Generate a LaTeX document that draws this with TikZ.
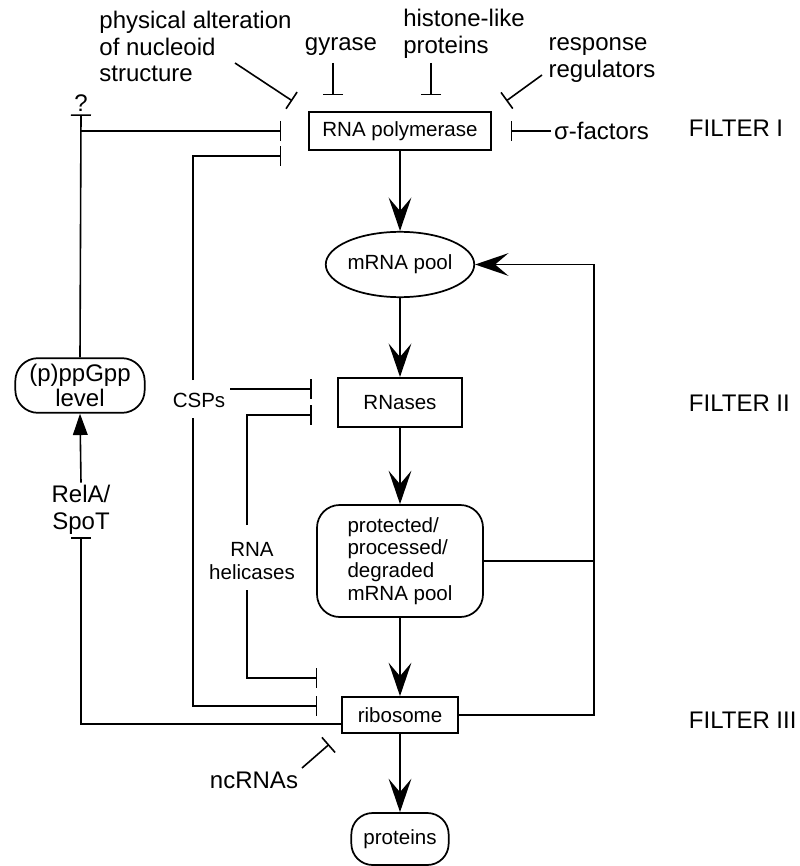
\documentclass[tikz,border=0pt]{standalone}
\usepackage{fontspec}
\setmainfont{Liberation Sans}
\usetikzlibrary{positioning,calc,arrows.meta,shapes.geometric}

\tikzset{
  lab/.style={font=\fontsize{18}{20}\selectfont, inner sep=2pt},
  txt/.style={font=\fontsize{15.4}{17}\selectfont, inner sep=2pt},
  box/.style={draw, line width=1.3pt, txt, inner sep=0pt},
  flow/.style={line width=1.8pt, -{Stealth[length=25pt,width=17pt,inset=10pt]}},
  inhib/.style={line width=1.2pt, -{Bar[width=15pt]}},
}

\begin{document}
\begin{tikzpicture}[x=0.75pt, y=-0.75pt]
  \useasboundingbox (0,0) rectangle (799,866);

  % Main chain
  \node[box, minimum width=137pt, minimum height=28.5pt] (pol) at (400,131) {RNA polymerase};
  \node[box, ellipse, minimum width=97pt, minimum height=49pt] (mrna) at (400,264.5) {mRNA pool};
  \node[box, minimum width=93pt, minimum height=37pt] (rnases) at (400,402.5) {RNases};
  \node[box, rounded corners=17pt, minimum width=124.5pt, minimum height=84pt, align=left] (ppool) at (400,561) {protected/\\processed/\\degraded\\mRNA pool};
  \node[box, minimum width=87pt, minimum height=27pt] (ribo) at (400,715) {ribosome};
  \node[box, rounded corners=16pt, minimum width=73pt, minimum height=39pt] (prot) at (400,839) {proteins};

  % Regulators
  \node[lab, align=left] (phys) at (195.5,46.5) {physical alteration\\of nucleoid\\structure};
  \node[lab] (gyr) at (341,47) {gyrase};
  \node[lab, align=left] (hist) at (464,33.5) {histone-like\\proteins};
  \node[lab, align=left] (resp) at (602,60) {response\\regulators};
  \node[lab] (sigma) at (601.5,131) {σ-factors};
  \node[lab] (q) at (81,103) {?};
  \node[lab, draw, line width=1.3pt, rounded corners=17pt, minimum width=97pt, minimum height=41pt, align=center, font=\fontsize{18}{18.75}\selectfont] (ppgpp) at (80,385.5) {(p)ppGpp\\level};
  \node[lab, align=center] (relspot) at (81,510) {RelA/\\SpoT};
  \node[txt] (csps) at (199,400) {CSPs};
  \node[txt, align=center] (helic) at (252,561) {RNA\\helicases};
  \node[lab] (ncrna) at (254,780) {ncRNAs};

  % Filters
  \node[lab, anchor=west] (f1) at (686,128) {FILTER I};
  \node[lab, anchor=west] (f2) at (686,403) {FILTER II};
  \node[lab, anchor=west] (f3) at (686,720) {FILTER III};

  % Line ends
  \coordinate (physft) at (235,63);
  \coordinate (gyrft) at (333,63);
  \coordinate (histft) at (431,63);
  \coordinate (respft) at (542,75);
  \coordinate (cspup) at (193,380);
  \coordinate (cspdn) at (193,418);
  \coordinate (cspr) at (230,389);
  \coordinate (helup) at (247,525);
  \coordinate (heldn) at (247,590);
  \coordinate (ncft) at (302,768);
  \coordinate (fb) at (594,264.5);

  % Flow
  \draw[flow] (pol) -- (mrna);
  \draw[flow] (mrna) -- (rnases);
  \draw[flow] (rnases) -- (ppool);
  \draw[flow] (ppool) -- (ribo);
  \draw[flow] (ribo) -- (prot);

  % Feedback to mRNA pool
  \draw[line width=1.4pt] (ppool.east) -- (ppool.east -| fb);
  \draw[flow, line width=1.4pt] (ribo.east) -| (fb) -- (mrna.east);

  % Filter I
  \draw[inhib, shorten >=14pt] (physft) -- (pol.north west);
  \draw[inhib, shorten >=12pt] (gyrft) -- (gyrft |- pol.north);
  \draw[inhib, shorten >=12pt] (histft) -- (histft |- pol.north);
  \draw[inhib, shorten >=13pt] (respft) -- (pol.north east);
  \draw[inhib, shorten >=14pt] (sigma.west) -- (pol.east);

  % (p)ppGpp
  \draw[inhib] (ppgpp.north) -- (q.south);
  \draw[inhib, shorten >=20pt] (ppgpp.north |- pol.west) -- (pol.west);
  \draw[inhib] ([yshift=-6.75pt]ribo.west) -| (relspot.south);
  \draw[line width=1.2pt, -{Triangle[length=16pt,width=11pt]}] (relspot.north) -- (ppgpp.south);

  % CSPs
  \draw[inhib, shorten >=20pt] (cspup) |- ([yshift=-4pt]pol.south west);
  \draw[inhib, shorten >=19pt] (cspr) -- (cspr -| rnases.west);
  \draw[inhib, shorten >=18pt] (cspdn) |- ([yshift=6.75pt]ribo.west);

  % RNA helicases
  \draw[inhib, shorten >=19pt] (helup) |- ([yshift=-9.4pt]rnases.west);
  \draw[inhib, shorten >=18pt] (heldn) |- ([yshift=27.75pt]ribo.west);

  % ncRNAs
  \draw[inhib, shorten >=12pt] (ncft) -- (ribo.south west);
\end{tikzpicture}
\end{document}
